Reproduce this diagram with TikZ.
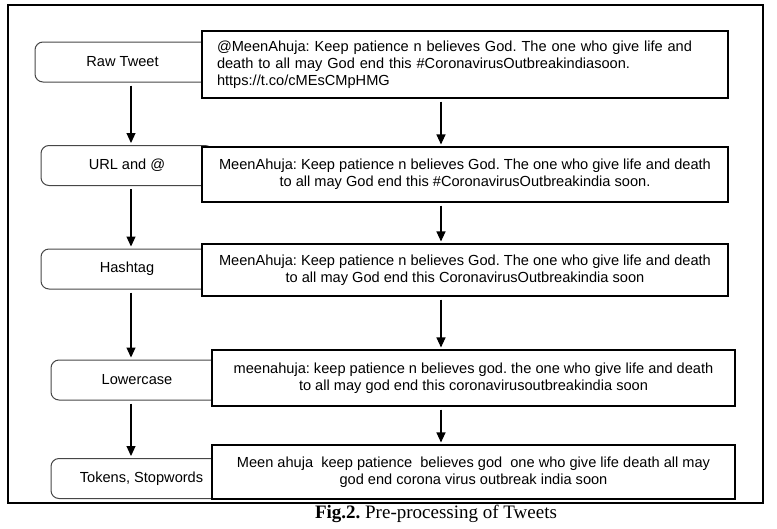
\documentclass[tikz,border=0pt]{standalone}
\usepackage{fontspec}
\setmainfont{Liberation Sans}
\newfontfamily\capfont{Liberation Serif}
\usetikzlibrary{arrows.meta,positioning,calc}
\definecolor{stageline}{RGB}{70,70,70}
\frenchspacing

\begin{document}
\begin{tikzpicture}[x=1pt,y=-1pt,
  stage/.style={draw=stageline,line width=1pt,rounded corners=8pt,minimum width=172pt,minimum height=40pt,inner sep=0pt,font=\fontsize{14.6}{17}\selectfont},
  tweet/.style={draw,line width=1.1pt,fill=white,inner sep=0pt,align=center,font=\fontsize{14.6}{17}\selectfont},
  arr/.style={-{Triangle[length=10pt,width=9pt]},line width=1.1pt,shorten <=3pt,shorten >=2pt}
]
\useasboundingbox (0,0) rectangle (777,528);
\draw[line width=1.4pt] (8,5) rectangle (763,503);

% processing steps (right ends hidden under the tweet boxes)
\node[stage,minimum width=175pt] (raw)   at (122.5,62)  {Raw Tweet};
\node[stage]                     (url)   at (127,165.5) {URL and @};
\node[stage]                     (hash)  at (127,269)   {Hashtag};
\node[stage]                     (lower) at (137,380)   {Lowercase};
\node[stage,minimum width=181pt] (tok)   at (141.5,478.5) {Tokens, Stopwords};

% tweet after each step
\node[tweet,align=left,text width=496pt,inner xsep=15pt,minimum height=67pt] (t1) at (465,64.5)
  {@MeenAhuja: Keep patience n believes God. The one who give life and\\
   death to all may God end this \#CoronavirusOutbreakindiasoon.\\
   https://t.co/cMEsCMpHMG};
\node[tweet,minimum width=526pt,minimum height=55pt] (t2) at (465,174.5)
  {MeenAhuja: Keep patience n believes God. The one who give life and death\\
   to all may God end this \#CoronavirusOutbreakindia soon.};
\node[tweet,minimum width=526pt,minimum height=52pt] (t3) at (465,270)
  {MeenAhuja: Keep patience n believes God. The one who give life and death\\
   to all may God end this CoronavirusOutbreakindia soon};
\node[tweet,minimum width=523pt,minimum height=56pt] (t4) at (473.5,378)
  {meenahuja: keep patience n believes god. the one who give life and death\\
   to all may god end this coronavirusoutbreakindia soon};
\node[tweet,minimum width=523pt,minimum height=54pt] (t5) at (473.5,472)
  {Meen ahuja\ \ keep patience\ \ believes god\ \ one who give life death all may\\
   god end corona virus outbreak india soon};

\coordinate (lx) at (131,0);
\coordinate (rx) at (441,0);

\draw[arr] (raw.south -| lx)   -- (url.north -| lx);
\draw[arr] (url.south -| lx)   -- (hash.north -| lx);
\draw[arr] (hash.south -| lx)  -- (lower.north -| lx);
\draw[arr] (lower.south -| lx) -- (tok.north -| lx);

\draw[arr] (t1.south -| rx) -- (t2.north -| rx);
\draw[arr] (t2.south -| rx) -- (t3.north -| rx);
\draw[arr] (t3.south -| rx) -- (t4.north -| rx);
\draw[arr] (t4.south -| rx) -- (t5.north -| rx);

\node[font=\capfont\fontsize{19}{22}\selectfont] (cap) at (436,514) {\textbf{Fig.2.} Pre-processing of Tweets};
\end{tikzpicture}
\end{document}
